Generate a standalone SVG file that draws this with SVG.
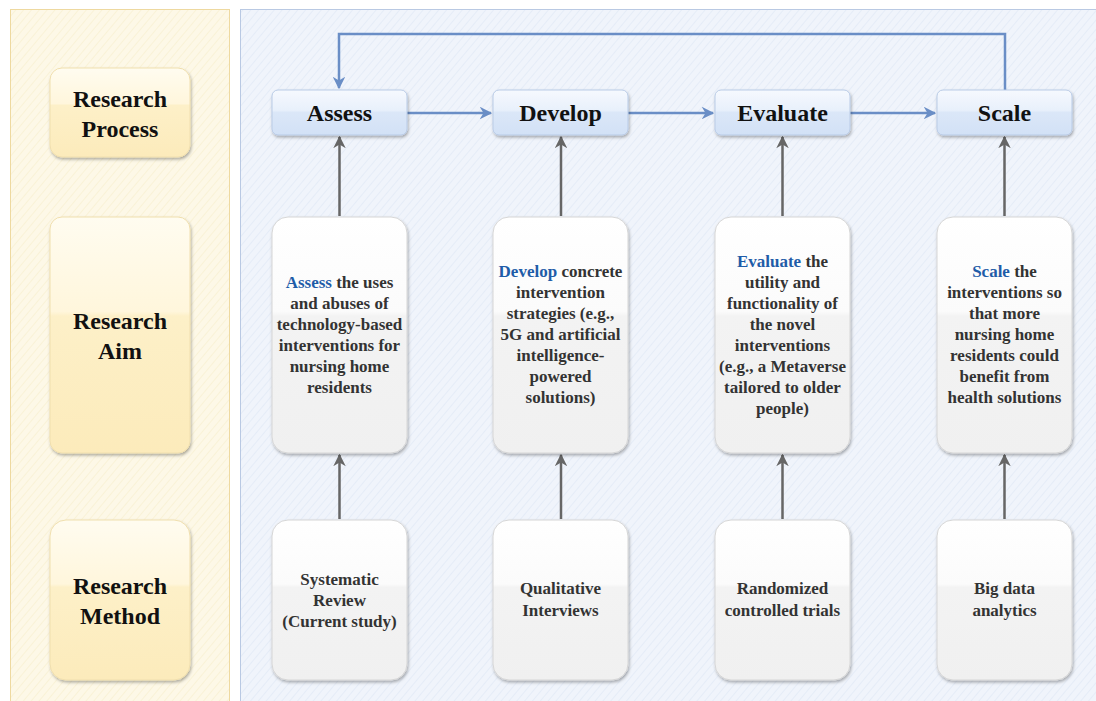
<svg xmlns="http://www.w3.org/2000/svg" width="1096" height="701" viewBox="0 0 1096 701">
<defs>
<pattern id="hatchY" width="6" height="6" patternUnits="userSpaceOnUse" patternTransform="rotate(-50)">
<rect width="6" height="6" fill="#fdf8e7"/>
<line x1="0" y1="0" x2="6" y2="0" stroke="#f6ecc8" stroke-width="1"/>
</pattern>
<pattern id="hatchB" width="6" height="6" patternUnits="userSpaceOnUse" patternTransform="rotate(-50)">
<rect width="6" height="6" fill="#f0f4fb"/>
<line x1="0" y1="0" x2="6" y2="0" stroke="#dbe5f4" stroke-width="1"/>
</pattern>
<linearGradient id="gProc" x1="0" y1="0" x2="0" y2="1">
<stop offset="0" stop-color="#f6f9fe"/>
<stop offset="0.45" stop-color="#e8f0fb"/>
<stop offset="0.5" stop-color="#dbe7f8"/>
<stop offset="1" stop-color="#d2e1f6"/>
</linearGradient>
<linearGradient id="gLab" x1="0" y1="0" x2="0" y2="1">
<stop offset="0" stop-color="#fffcf0"/>
<stop offset="0.4" stop-color="#fff6dc"/>
<stop offset="0.42" stop-color="#fdf0c8"/>
<stop offset="1" stop-color="#fcebbb"/>
</linearGradient>
<linearGradient id="gBox" x1="0" y1="0" x2="0" y2="1">
<stop offset="0" stop-color="#ffffff"/>
<stop offset="0.4" stop-color="#fbfbfb"/>
<stop offset="0.42" stop-color="#f3f3f3"/>
<stop offset="1" stop-color="#f0f0f0"/>
</linearGradient>
<filter id="sh" x="-10%" y="-10%" width="125%" height="125%">
<feDropShadow dx="1" dy="2" stdDeviation="1.5" flood-color="#000" flood-opacity="0.3"/>
</filter>
<marker id="arB" viewBox="0 0 10 10" refX="9" refY="5" markerWidth="5" markerHeight="5" orient="auto" markerUnits="strokeWidth">
<path d="M0,0 L10,5 L0,10 L3,5 z" fill="#6a8ec6"/>
</marker>
<marker id="arG" viewBox="0 0 10 10" refX="9" refY="5" markerWidth="5" markerHeight="5" orient="auto" markerUnits="strokeWidth">
<path d="M0,0 L10,5 L0,10 L3,5 z" fill="#666"/>
</marker>
<style>
.proc{fill:url(#gProc);stroke:#b9cbe6;stroke-width:1;filter:url(#sh)}
.lab{fill:url(#gLab);stroke:#f0dfae;stroke-width:1;filter:url(#sh)}
.box{fill:url(#gBox);stroke:#d6d6d6;stroke-width:1;filter:url(#sh)}
.tp{font-family:"Liberation Serif","Times New Roman",serif;font-weight:bold;font-size:24px;fill:#111;text-anchor:middle}
.tb{font-family:"Liberation Serif","Times New Roman",serif;font-weight:bold;font-size:17px;fill:#333;text-anchor:middle}
.hl{fill:#1f5ca8}
.cb{fill:none;stroke:#6a8ec6;stroke-width:2.5;marker-end:url(#arB)}
.cg{fill:none;stroke:#666;stroke-width:2.5;marker-end:url(#arG)}
</style>
</defs>

<rect width="1096" height="701" fill="#ffffff"/>
<g id="panels">
<rect x="10.5" y="9.5" width="219" height="700" fill="url(#hatchY)" stroke="#eed9a0"/>
<rect x="240.5" y="9.5" width="870" height="700" fill="url(#hatchB)" stroke="#b9c9e3"/>
</g>

<g id="label-process">
<rect class="lab" x="50" y="68" width="140" height="89" rx="12"/>
<text class="tp" x="120" y="107">Research</text>
<text class="tp" x="120" y="137">Process</text>
</g>
<g id="label-aim">
<rect class="lab" x="50" y="217" width="140" height="236" rx="12"/>
<text class="tp" x="120" y="329">Research</text>
<text class="tp" x="120" y="359">Aim</text>
</g>
<g id="label-method">
<rect class="lab" x="50" y="520" width="140" height="160" rx="16"/>
<text class="tp" x="120" y="594">Research</text>
<text class="tp" x="120" y="624">Method</text>
</g>

<g id="connectors">
<path class="cb" d="M1005,90 V34 H339 V88"/>
<path class="cb" d="M407,113 H491"/>
<path class="cb" d="M628,113 H713"/>
<path class="cb" d="M850,113 H935"/>
<path class="cg" d="M339.5,216 V137"/>
<path class="cg" d="M561,216 V137"/>
<path class="cg" d="M782.5,216 V137"/>
<path class="cg" d="M1004.5,216 V137"/>
<path class="cg" d="M339.5,519 V455"/>
<path class="cg" d="M561,519 V455"/>
<path class="cg" d="M782.5,519 V455"/>
<path class="cg" d="M1004.5,519 V455"/>
</g>

<g id="proc-assess">
<rect class="proc" x="272" y="90" width="135" height="45" rx="6"/>
<text class="tp" x="339.5" y="121">Assess</text>
</g>
<g id="proc-develop">
<rect class="proc" x="493" y="90" width="135" height="45" rx="6"/>
<text class="tp" x="560.5" y="121">Develop</text>
</g>
<g id="proc-evaluate">
<rect class="proc" x="715" y="90" width="135" height="45" rx="6"/>
<text class="tp" x="782.5" y="121">Evaluate</text>
</g>
<g id="proc-scale">
<rect class="proc" x="937" y="90" width="135" height="45" rx="6"/>
<text class="tp" x="1004.5" y="121">Scale</text>
</g>

<g id="aim-assess">
<rect class="box" x="272" y="217" width="135" height="236" rx="16"/>
<text class="tb" x="339.5" y="288"><tspan class="hl">Assess</tspan> the uses</text>
<text class="tb" x="339.5" y="309">and abuses of</text>
<text class="tb" x="339.5" y="330">technology-based</text>
<text class="tb" x="339.5" y="351">interventions for</text>
<text class="tb" x="339.5" y="372">nursing home</text>
<text class="tb" x="339.5" y="393">residents</text>
</g>
<g id="aim-develop">
<rect class="box" x="493" y="217" width="135" height="236" rx="16"/>
<text class="tb" x="560.5" y="277"><tspan class="hl">Develop</tspan> concrete</text>
<text class="tb" x="560.5" y="298">intervention</text>
<text class="tb" x="560.5" y="319">strategies (e.g.,</text>
<text class="tb" x="560.5" y="340">5G and artificial</text>
<text class="tb" x="560.5" y="361">intelligence-</text>
<text class="tb" x="560.5" y="382">powered</text>
<text class="tb" x="560.5" y="403">solutions)</text>
</g>
<g id="aim-evaluate">
<rect class="box" x="715" y="217" width="135" height="236" rx="16"/>
<text class="tb" x="782.5" y="267"><tspan class="hl">Evaluate</tspan> the</text>
<text class="tb" x="782.5" y="288">utility and</text>
<text class="tb" x="782.5" y="309">functionality of</text>
<text class="tb" x="782.5" y="330">the novel</text>
<text class="tb" x="782.5" y="351">interventions</text>
<text class="tb" x="782.5" y="372">(e.g., a Metaverse</text>
<text class="tb" x="782.5" y="393">tailored to older</text>
<text class="tb" x="782.5" y="414">people)</text>
</g>
<g id="aim-scale">
<rect class="box" x="937" y="217" width="135" height="236" rx="16"/>
<text class="tb" x="1004.5" y="277"><tspan class="hl">Scale</tspan> the</text>
<text class="tb" x="1004.5" y="298">interventions so</text>
<text class="tb" x="1004.5" y="319">that more</text>
<text class="tb" x="1004.5" y="340">nursing home</text>
<text class="tb" x="1004.5" y="361">residents could</text>
<text class="tb" x="1004.5" y="382">benefit from</text>
<text class="tb" x="1004.5" y="403">health solutions</text>
</g>

<g id="method-review">
<rect class="box" x="272" y="520" width="135" height="160" rx="16"/>
<text class="tb" x="339.5" y="585">Systematic</text>
<text class="tb" x="339.5" y="606">Review</text>
<text class="tb" x="339.5" y="627">(Current study)</text>
</g>
<g id="method-interviews">
<rect class="box" x="493" y="520" width="135" height="160" rx="16"/>
<text class="tb" x="560.5" y="594">Qualitative</text>
<text class="tb" x="560.5" y="616">Interviews</text>
</g>
<g id="method-rct">
<rect class="box" x="715" y="520" width="135" height="160" rx="16"/>
<text class="tb" x="782.5" y="594">Randomized</text>
<text class="tb" x="782.5" y="616">controlled trials</text>
</g>
<g id="method-bigdata">
<rect class="box" x="937" y="520" width="135" height="160" rx="16"/>
<text class="tb" x="1004.5" y="594">Big data</text>
<text class="tb" x="1004.5" y="616">analytics</text>
</g>
</svg>
